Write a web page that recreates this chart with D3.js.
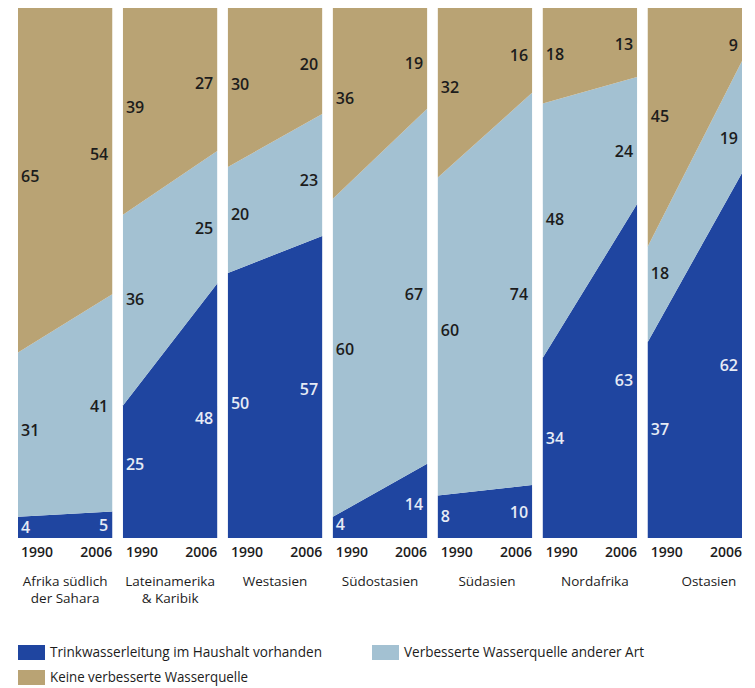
<!DOCTYPE html>
<html lang="de">
<head>
  <meta charset="UTF-8">
  <title>Wasserversorgung 1990 und 2006</title>
  <script src="https://d3js.org/d3.v7.min.js"></script>
  <style>
    body { margin: 0; padding: 0; background: #fff; }
    svg { display: block; font-family: "Open Sans", Arial, sans-serif; }
  </style>
</head>
<body>
  <div id="chart"></div>
  <script>
    // regions (two label lines each) and years
    const regionLines = [
      ["Afrika südlich", "der Sahara"],
      ["Lateinamerika", "& Karibik"],
      ["Westasien"],
      ["Südostasien"],
      ["Südasien"],
      ["Nordafrika"],
      ["Ostasien"]
    ];
    const years = ["1990", "2006"];

    // percent values per region
    const piped1990 = [4, 25, 50, 4, 8, 34, 37];
    const piped2006 = [5, 48, 57, 14, 10, 63, 62];
    const other1990 = [31, 36, 20, 60, 60, 48, 18];
    const other2006 = [41, 25, 23, 67, 74, 24, 19];
    const none1990 = [65, 39, 30, 36, 32, 18, 45];
    const none2006 = [54, 27, 20, 19, 16, 13, 9];

    const keys = ["piped", "other", "none"];
    const legendLabels = [
      "Trinkwasserleitung im Haushalt vorhanden",
      "Verbesserte Wasserquelle anderer Art",
      "Keine verbesserte Wasserquelle"
    ];

    const width = 755, height = 688;
    const color = d3.scaleOrdinal(keys, ["#1f45a0", "#a3c1d2", "#b9a374"]);
    const labelColor = { piped: "#e6ebf5", other: "#1c1c1c", none: "#1c1c1c" };
    const nameShift = [0, 0, 0, 0, 2, 5, 14]; // region names are not quite centred

    const svg = d3.select("#chart").append("svg")
      .attr("width", width)
      .attr("height", height);

    const regionIdx = d3.range(regionLines.length);
    const x = d3.scaleBand().domain(regionIdx).range([18, 742]).paddingInner(0.102);
    const bw = x.bandwidth();
    const xIn = d3.scalePoint().domain(years).range([0, bw]);
    const y = d3.scaleLinear().domain([0, 1]).range([538, 8]);

    const stack = d3.stack().keys(keys).offset(d3.stackOffsetExpand);
    const area = d3.area()
      .x(d => xIn(d.data.year))
      .y0(d => y(d[0]))
      .y1(d => y(d[1]));

    regionIdx.forEach(r => {
      const rows = [
        { year: years[0], piped: piped1990[r], other: other1990[r], none: none1990[r] },
        { year: years[1], piped: piped2006[r], other: other2006[r], none: none2006[r] }
      ];
      const series = stack(rows);
      const g = svg.append("g").attr("transform", `translate(${x(r)},0)`);

      g.selectAll("path")
        .data(series)
        .join("path")
        .attr("d", area)
        .attr("fill", s => color(s.key));

      // value labels near each edge, centred in the band
      series.forEach(s => {
        [0, 1].forEach(i => {
          const t = i === 0 ? 0.12 : 0.88;
          const lo = s[0][0] + (s[1][0] - s[0][0]) * t;
          const hi = s[0][1] + (s[1][1] - s[0][1]) * t;
          g.append("text")
            .attr("x", i === 0 ? 3 : bw - 4)
            .attr("y", (y(lo) + y(hi)) / 2)
            .attr("dy", "0.35em")
            .attr("text-anchor", i === 0 ? "start" : "end")
            .attr("font-size", 16)
            .attr("font-weight", 600)
            .attr("fill", labelColor[s.key])
            .text(s[i].data[s.key]);
        });
      });

      // year ticks
      years.forEach((yr, i) => {
        g.append("text")
          .attr("x", i === 0 ? 3 : bw)
          .attr("y", 557)
          .attr("text-anchor", i === 0 ? "start" : "end")
          .attr("font-size", 14)
          .attr("font-weight", 600)
          .attr("fill", "#1c1c1c")
          .text(yr);
      });

      // region name, one text per line
      regionLines[r].forEach((line, i) => {
        g.append("text")
          .attr("x", bw / 2 + nameShift[r])
          .attr("y", 586 + i * 17)
          .attr("text-anchor", "middle")
          .attr("font-size", 13.5)
          .attr("fill", "#1c1c1c")
          .text(line);
      });
    });

    // legend
    const legendPos = [[18, 645, 272], [372, 645, 240], [18, 670, 198]];
    const legend = svg.append("g");
    keys.forEach((k, i) => {
      const [lx, ly, tl] = legendPos[i];
      legend.append("rect")
        .attr("x", lx).attr("y", ly)
        .attr("width", 27).attr("height", 15)
        .attr("fill", color(k));
      legend.append("text")
        .attr("x", lx + 32)
        .attr("y", ly + 7.5)
        .attr("dy", "0.35em")
        .attr("font-size", 14)
        .attr("fill", "#1c1c1c")
        .attr("textLength", tl)
        .attr("lengthAdjust", "spacingAndGlyphs")
        .text(legendLabels[i]);
    });
  </script>
</body>
</html>
